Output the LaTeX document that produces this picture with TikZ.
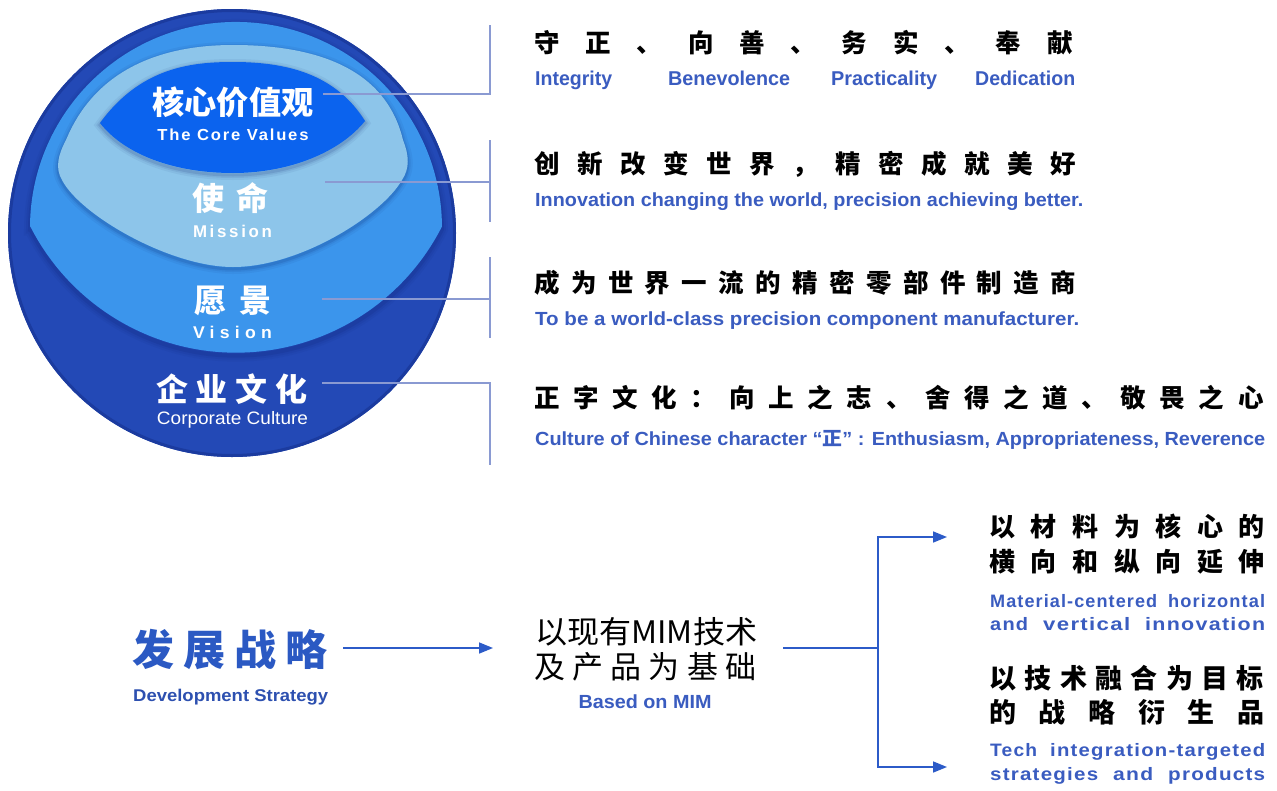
\documentclass[tikz,border=0pt]{standalone}
\usepackage{fontspec}
\usepackage{graphicx}
\usetikzlibrary{arrows.meta}
\setmainfont{Liberation Sans}
\newfontfamily\cjk{Noto Sans CJK SC}
\newfontfamily\engtr[LetterSpace=6]{Liberation Sans}
\makeatletter
\newcommand\spacedrow[2]{\def\sr@w{#1}\@tfor\sr@c:=#2\do{\makebox[\sr@w][l]{\sr@c}}}
\makeatother
\newcommand\fitw[2]{\resizebox{#1}{\height}{#2}}
\definecolor{outerc}{HTML}{2349B6}
\definecolor{rimc}{HTML}{1B3B9F}
\definecolor{visc}{HTML}{3B95EC}
\definecolor{misc}{HTML}{8DC5EA}
\definecolor{corec}{HTML}{0B63EE}
\definecolor{shadowc}{HTML}{0A1F66}
\definecolor{engc}{HTML}{3A5CC0}
\definecolor{stratc}{HTML}{2B59C3}
\definecolor{stratc2}{HTML}{2D50B0}
\definecolor{arrc}{HTML}{2C5BC8}
\definecolor{linec}{HTML}{8A9AD2}
\begin{document}
\begin{tikzpicture}[x=1pt,y=-1pt,
  cn/.style={anchor=west,inner sep=0pt,font=\cjk\bfseries\fontsize{25.5}{25.5}\selectfont},
  en/.style={anchor=west,inner sep=0pt,text=engc,font=\bfseries\fontsize{19}{19}\selectfont},
  entr/.style={anchor=west,inner sep=0pt,text=engc,font=\engtr\bfseries\fontsize{18}{18}\selectfont},
  wt/.style={inner sep=0pt,text=white},
  conn/.style={draw=linec,line width=1.5pt},
  flow/.style={draw=arrc,line width=1.6pt},
  tip/.tip={Triangle[length=14pt,width=11pt]},
]
\useasboundingbox (0,0) rectangle (1277,790);
\fill[white] (0,0) rectangle (1277,790);

% ---------- circle ----------
\fill[outerc] (232,233) circle[radius=224];
\draw[rimc,line width=3pt] (232,233) circle[radius=222.5];

% vision shadow + shape
\foreach \w/\o in {12/0.06,8/0.08,4/0.12}{
  \draw[shadowc,opacity=\o,line width=\w pt,shift={(0,3)}]
    (30,226.5) arc[start angle=180.4,end angle=359.6,radius=206]
    arc[start angle=27,end angle=153,radius=231] -- cycle;
}
\fill[visc] (30,226.5) arc[start angle=180.4,end angle=359.6,radius=206]
    arc[start angle=27,end angle=153,radius=231] -- cycle;

% mission shadow + shape
\foreach \w/\o in {10/0.06,6/0.08,3/0.12}{
  \draw[shadowc,opacity=\o,line width=\w pt,shift={(0,2)}]
    (233,267) .. controls (170,267) and (80,215) .. (62,180)
    .. controls (55,168) and (58,155) .. (66,140)
    .. controls (95,70) and (160,45) .. (233,45)
    .. controls (310,45) and (385,65) .. (403,140)
    .. controls (409,155) and (410,168) .. (402,180)
    .. controls (382,215) and (300,267) .. (233,267) -- cycle;
}
\fill[misc] (233,267) .. controls (170,267) and (80,215) .. (62,180)
    .. controls (55,168) and (58,155) .. (66,140)
    .. controls (95,70) and (160,45) .. (233,45)
    .. controls (310,45) and (385,65) .. (403,140)
    .. controls (409,155) and (410,168) .. (402,180)
    .. controls (382,215) and (300,267) .. (233,267) -- cycle;

% core shadow + shape
\foreach \w/\o in {10/0.06,6/0.08,3/0.12}{
  \draw[shadowc,opacity=\o,line width=\w pt,shift={(0,2)}]
    (100,123) .. controls (140,68) and (190,62) .. (233,62)
    .. controls (285,62) and (335,73) .. (365,121)
    .. controls (340,152) and (290,173) .. (233,173)
    .. controls (175,173) and (125,155) .. (100,123) -- cycle;
}
\fill[corec] (100,123) .. controls (140,68) and (190,62) .. (233,62)
    .. controls (285,62) and (335,73) .. (365,121)
    .. controls (340,152) and (290,173) .. (233,173)
    .. controls (175,173) and (125,155) .. (100,123) -- cycle;

% circle texts
\node[wt,font=\cjk\bfseries\fontsize{32}{32}\selectfont] (core) at (233,102) {\fitw{161pt}{核心价值观}};
\node[wt,font=\bfseries\fontsize{16}{16}\selectfont] (coreen) at (233,135) {\fitw{151pt}{\addfontfeatures{LetterSpace=11}The Core Values}};
\node[wt,anchor=west,font=\cjk\bfseries\fontsize{32}{32}\selectfont] (mis) at (192,198) {\spacedrow{44pt}{使命}};
\node[wt,font=\bfseries\fontsize{17}{17}\selectfont] (misen) at (232.5,231) {\fitw{79pt}{\addfontfeatures{LetterSpace=16}Mission}};
\node[wt,anchor=west,font=\cjk\bfseries\fontsize{32}{32}\selectfont] (vis) at (194,301) {\spacedrow{45pt}{愿景}};
\node[wt,font=\bfseries\fontsize{17}{17}\selectfont] (visen) at (232.5,332) {\fitw{79pt}{\addfontfeatures{LetterSpace=30}Vision}};
\node[wt,anchor=west,font=\cjk\bfseries\fontsize{32}{32}\selectfont] (cul) at (156,389) {\spacedrow{39.7pt}{企业文化}};
\node[wt,font=\fontsize{18}{18}\selectfont] (culen) at (232.5,420) {\fitw{151pt}{Corporate Culture}};

% ---------- connectors to the right column ----------
\coordinate (l1a) at (323,94);  \coordinate (l1b) at (490,94);  \coordinate (l1c) at (490,25);
\coordinate (l2a) at (325,182); \coordinate (l2b) at (490,182); \coordinate (l2t) at (490,140); \coordinate (l2d) at (490,222);
\coordinate (l3a) at (322,299); \coordinate (l3b) at (490,299); \coordinate (l3t) at (490,257); \coordinate (l3d) at (490,338);
\coordinate (l4a) at (322,383); \coordinate (l4b) at (490,383); \coordinate (l4d) at (490,465);
\draw[conn] (l1a) -- (l1b) -- (l1c);
\draw[conn] (l2a) -- (l2b); \draw[conn] (l2t) -- (l2d);
\draw[conn] (l3a) -- (l3b); \draw[conn] (l3t) -- (l3d);
\draw[conn] (l4a) -- (l4b) -- (l4d);

% ---------- right column texts ----------
\node[cn] (r1) at (534,43) {\spacedrow{51.3pt}{守正、向善、务实、奉献}};
\node[en,font=\bfseries\fontsize{20}{20}\selectfont] (r1e) at (535,80) {\makebox[133pt][l]{\fitw{77pt}{Integrity}}\makebox[163pt][l]{\fitw{122pt}{Benevolence}}\makebox[144pt][l]{\fitw{106pt}{Practicality}}\fitw{100pt}{Dedication}};
\node[cn] (r2) at (534,164) {\spacedrow{43pt}{创新改变世界，精密成就美好}};
\node[en] (r2e) at (535,202) {\fitw{548pt}{Innovation changing the world, precision achieving better.}};
\node[cn] (r3) at (534,283) {\spacedrow{36.9pt}{成为世界一流的精密零部件制造商}};
\node[en] (r3e) at (535,321) {\fitw{544pt}{To be a world-class precision component manufacturer.}};
\node[cn] (r4) at (534,398) {\spacedrow{39.1pt}{正字文化：向上之志、舍得之道、敬畏之心}};
\node[en] (r4e) at (535,440) {\fitw{730pt}{Culture of Chinese character “{\cjk\bfseries 正}” : Enthusiasm, Appropriateness, Reverence}};

% ---------- development strategy ----------
\node[anchor=west,inner sep=0pt,text=stratc,font=\cjk\bfseries\fontsize{42}{42}\selectfont] (ds) at (132,650) {\spacedrow{51pt}{发展战略}};
\node[anchor=west,inner sep=0pt,text=stratc2,font=\bfseries\fontsize{17}{17}\selectfont] (dse) at (133,697) {\fitw{195pt}{Development Strategy}};
\node[anchor=west,inner sep=0pt,font=\cjk\fontsize{31}{31}\selectfont] (b1) at (535,632) {\fitw{222pt}{以现有MIM技术}};
\node[anchor=west,inner sep=0pt,font=\cjk\fontsize{31}{31}\selectfont] (b2) at (534,667) {\spacedrow{38.2pt}{及产品为基础}};
\node[inner sep=0pt,text=engc,font=\bfseries\fontsize{19}{19}\selectfont] (b3) at (645,702) {\fitw{133pt}{Based on MIM}};

\node[cn,font=\cjk\bfseries\fontsize{26}{26}\selectfont] (t1) at (989,526) {\spacedrow{41.6pt}{以材料为核心的}};
\node[cn,font=\cjk\bfseries\fontsize{26}{26}\selectfont] (t2) at (989,562) {\spacedrow{41.6pt}{横向和纵向延伸}};
\node[entr] (t3) at (990,601) {\makebox[178pt][l]{\fitw{167pt}{Material-centered}}\fitw{97pt}{horizontal}};
\node[entr] (t4) at (990,624) {\makebox[53pt][l]{\fitw{38pt}{and}}\makebox[102pt][l]{\fitw{87pt}{vertical}}\fitw{120pt}{innovation}};
\node[cn,font=\cjk\bfseries\fontsize{27}{27}\selectfont] (t5) at (989,678) {\spacedrow{35.4pt}{以技术融合为目标}};
\node[cn,font=\cjk\bfseries\fontsize{27}{27}\selectfont] (t6) at (989,712) {\spacedrow{49.6pt}{的战略衍生品}};
\node[entr] (t7) at (990,752) {\makebox[60pt][l]{\fitw{47pt}{Tech}}\fitw{215pt}{integration-targeted}};
\node[entr] (t8) at (990,776) {\makebox[123pt][l]{\fitw{108pt}{strategies}}\makebox[55pt][l]{\fitw{40pt}{and}}\fitw{97pt}{products}};

% ---------- flow arrows ----------
\coordinate (a0) at (343,648); \coordinate (a1) at (493,648);
\coordinate (c0) at (783,648); \coordinate (cj) at (878,648);
\coordinate (cu) at (878,537); \coordinate (cd) at (878,767);
\coordinate (cue) at (947,537); \coordinate (cde) at (947,767);
\draw[flow,-tip] (a0) -- (a1);
\draw[flow] (c0) -- (cj);
\draw[flow,tip-tip] (cue) -- (cu) -- (cd) -- (cde);
\end{tikzpicture}
\end{document}
